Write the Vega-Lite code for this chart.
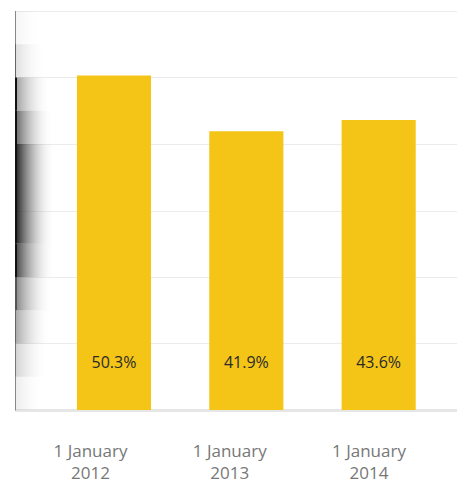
{
  "$schema": "https://vega.github.io/schema/vega-lite/v6.json",
  "width": 442,
  "height": 399,
  "autosize": {"type": "none"},
  "padding": {"left": 15, "top": 11, "right": 0, "bottom": 73},
  "background": "white",
  "config": {"view": {"stroke": null}, "font": "Open Sans"},
  "data": {"values": [
    {"date": "1 January 2012", "value": 0.503},
    {"date": "1 January 2013", "value": 0.419},
    {"date": "1 January 2014", "value": 0.436}
  ]},
  "resolve": {"scale": {"x": "independent"}, "axis": {"x": "independent"}},
  "layer": [
    {
      "data": {"values": [{}]},
      "mark": {"type": "rect", "fill": {"gradient": "linear", "x1": 0, "x2": 1, "y1": 0, "y2": 0, "stops": [{"offset": 0, "color": "#888888"}, {"offset": 0.003, "color": "#888888"}, {"offset": 0.003, "color": "rgba(0,0,0,0.04)"}, {"offset": 0.06, "color": "rgba(255,255,255,0)"}]}},
      "encoding": {
        "y": {"datum": 0.55, "type": "quantitative", "scale": {"domain": [0, 0.6], "nice": false},
          "axis": {"title": null, "labels": false, "ticks": false, "grid": true, "values": [0, 0.1, 0.2, 0.3, 0.4, 0.5, 0.6], "gridColor": "#ebebeb", "domainColor": "#888888", "domainWidth": 1}},
        "y2": {"datum": 0.6}
      }
    },
    {
      "data": {"values": [{}]},
      "mark": {"type": "rect", "fill": {"gradient": "linear", "x1": 0, "x2": 1, "y1": 0, "y2": 0, "stops": [{"offset": 0, "color": "#666666"}, {"offset": 0.003, "color": "#666666"}, {"offset": 0.003, "color": "rgba(0,0,0,0.12)"}, {"offset": 0.07, "color": "rgba(255,255,255,0)"}]}},
      "encoding": {"y": {"datum": 0.5, "type": "quantitative"}, "y2": {"datum": 0.55}}
    },
    {
      "data": {"values": [{}]},
      "mark": {"type": "rect", "fill": {"gradient": "linear", "x1": 0, "x2": 1, "y1": 0, "y2": 0, "stops": [{"offset": 0, "color": "#111111"}, {"offset": 0.005, "color": "#111111"}, {"offset": 0.005, "color": "rgba(0,0,0,0.35)"}, {"offset": 0.08, "color": "rgba(255,255,255,0)"}]}},
      "encoding": {"y": {"datum": 0.45, "type": "quantitative"}, "y2": {"datum": 0.5}}
    },
    {
      "data": {"values": [{}]},
      "mark": {"type": "rect", "fill": {"gradient": "linear", "x1": 0, "x2": 1, "y1": 0, "y2": 0, "stops": [{"offset": 0, "color": "#111111"}, {"offset": 0.005, "color": "#111111"}, {"offset": 0.005, "color": "rgba(0,0,0,0.55)"}, {"offset": 0.085, "color": "rgba(255,255,255,0)"}]}},
      "encoding": {"y": {"datum": 0.4, "type": "quantitative"}, "y2": {"datum": 0.45}}
    },
    {
      "data": {"values": [{}]},
      "mark": {"type": "rect", "fill": {"gradient": "linear", "x1": 0, "x2": 1, "y1": 0, "y2": 0, "stops": [{"offset": 0, "color": "#111111"}, {"offset": 0.005, "color": "#111111"}, {"offset": 0.005, "color": "rgba(0,0,0,0.8)"}, {"offset": 0.09, "color": "rgba(255,255,255,0)"}]}},
      "encoding": {"y": {"datum": 0.25, "type": "quantitative"}, "y2": {"datum": 0.4}}
    },
    {
      "data": {"values": [{}]},
      "mark": {"type": "rect", "fill": {"gradient": "linear", "x1": 0, "x2": 1, "y1": 0, "y2": 0, "stops": [{"offset": 0, "color": "#111111"}, {"offset": 0.005, "color": "#111111"}, {"offset": 0.005, "color": "rgba(0,0,0,0.68)"}, {"offset": 0.09, "color": "rgba(255,255,255,0)"}]}},
      "encoding": {"y": {"datum": 0.2, "type": "quantitative"}, "y2": {"datum": 0.25}}
    },
    {
      "data": {"values": [{}]},
      "mark": {"type": "rect", "fill": {"gradient": "linear", "x1": 0, "x2": 1, "y1": 0, "y2": 0, "stops": [{"offset": 0, "color": "#555555"}, {"offset": 0.004, "color": "#555555"}, {"offset": 0.004, "color": "rgba(0,0,0,0.45)"}, {"offset": 0.085, "color": "rgba(255,255,255,0)"}]}},
      "encoding": {"y": {"datum": 0.15, "type": "quantitative"}, "y2": {"datum": 0.2}}
    },
    {
      "data": {"values": [{}]},
      "mark": {"type": "rect", "fill": {"gradient": "linear", "x1": 0, "x2": 1, "y1": 0, "y2": 0, "stops": [{"offset": 0, "color": "#666666"}, {"offset": 0.003, "color": "#666666"}, {"offset": 0.003, "color": "rgba(0,0,0,0.32)"}, {"offset": 0.08, "color": "rgba(255,255,255,0)"}]}},
      "encoding": {"y": {"datum": 0.1, "type": "quantitative"}, "y2": {"datum": 0.15}}
    },
    {
      "data": {"values": [{}]},
      "mark": {"type": "rect", "fill": {"gradient": "linear", "x1": 0, "x2": 1, "y1": 0, "y2": 0, "stops": [{"offset": 0, "color": "#777777"}, {"offset": 0.003, "color": "#777777"}, {"offset": 0.003, "color": "rgba(0,0,0,0.17)"}, {"offset": 0.075, "color": "rgba(255,255,255,0)"}]}},
      "encoding": {"y": {"datum": 0.05, "type": "quantitative"}, "y2": {"datum": 0.1}}
    },
    {
      "data": {"values": [{}]},
      "mark": {"type": "rect", "fill": {"gradient": "linear", "x1": 0, "x2": 1, "y1": 0, "y2": 0, "stops": [{"offset": 0, "color": "#888888"}, {"offset": 0.003, "color": "#888888"}, {"offset": 0.003, "color": "rgba(0,0,0,0.07)"}, {"offset": 0.065, "color": "rgba(255,255,255,0)"}]}},
      "encoding": {"y": {"datum": 0, "type": "quantitative"}, "y2": {"datum": 0.05}}
    },
    {
      "mark": {"type": "bar", "color": "#F4C516"},
      "encoding": {
        "x": {
          "field": "date", "type": "nominal", "sort": null,
          "scale": {"paddingInner": 0.44, "paddingOuter": 0.39, "align": 0.6},
          "axis": {"title": null, "orient": "bottom", "labels": false, "ticks": false, "domainColor": "#e6e6e6", "domainWidth": 3}
        },
        "y": {"field": "value", "type": "quantitative"}
      }
    },
    {
      "mark": {"type": "text", "fontSize": 16, "color": "#2a2a2a", "baseline": "middle", "dy": -47, "font": "Open Sans"},
      "encoding": {
        "x": {"field": "date", "type": "nominal", "sort": null, "scale": {"type": "band", "paddingInner": 0.44, "paddingOuter": 0.39, "align": 0.6}, "axis": null},
        "y": {"datum": 0, "type": "quantitative"},
        "text": {"field": "value", "type": "quantitative", "format": ".1%"}
      }
    },
    {
      "mark": {"type": "point", "opacity": 0},
      "encoding": {
        "x": {
          "field": "date", "type": "nominal", "sort": null,
          "scale": {"type": "band", "paddingInner": 0, "paddingOuter": 0.087, "align": 0.24},
          "axis": {"title": null, "orient": "bottom", "labelAngle": 0, "ticks": false, "domain": false, "grid": false, "labelPadding": 33, "labelFontSize": 17, "labelColor": "#777777", "labelLineHeight": 22, "labelFont": "Open Sans", "labelExpr": "[substring(datum.label, 0, 9), substring(datum.label, 10)]"}
        },
        "y": {"datum": 0, "type": "quantitative"}
      }
    }
  ]
}
